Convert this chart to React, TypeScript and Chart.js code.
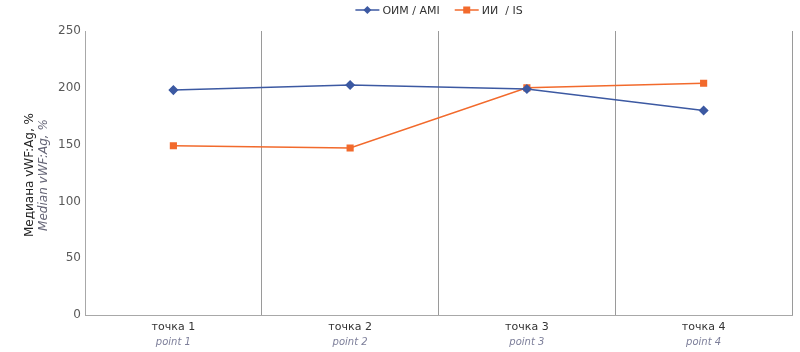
import React, { useEffect, useRef } from "react";
import { Chart, registerables } from "chart.js";

Chart.register(...registerables);

const categoriesRu = ["точка 1", "точка 2", "точка 3", "точка 4"];
const categoriesEn = ["point 1", "point 2", "point 3", "point 4"];
const amiValues = [198, 202.5, 199, 180];
const isValues = [149, 147, 200, 204];
const seriesNames = ["ОИМ / AMI", "ИИ  / IS"];
const yTitleRu = "Медиана vWF:Ag, %";
const yTitleEn = "Median vWF:Ag, %";

const BLUE = "#3C59A2";
const ORANGE = "#F26A2C";
const FONT = "'DejaVu Sans', sans-serif";

const customText = {
  id: "customText",
  afterDraw(chart: any) {
    const ctx = chart.ctx;
    const x = chart.scales.x;
    const area = chart.chartArea;
    ctx.save();
    ctx.textAlign = "center";
    ctx.textBaseline = "middle";
    categoriesRu.forEach((lab, i) => {
      const px = x.getPixelForValue(i);
      ctx.font = `11px ${FONT}`;
      ctx.fillStyle = "#333333";
      ctx.fillText(lab, px, area.bottom + 12);
      ctx.font = `italic 10px ${FONT}`;
      ctx.fillStyle = "#7d7f9a";
      ctx.fillText(categoriesEn[i], px, area.bottom + 27);
    });
    const cy = (area.top + area.bottom) / 2 + 2;
    ctx.translate(30, cy);
    ctx.rotate(-Math.PI / 2);
    ctx.font = `12px ${FONT}`;
    ctx.fillStyle = "#222222";
    ctx.fillText(yTitleRu, 0, 0);
    ctx.font = `italic 12px ${FONT}`;
    ctx.fillStyle = "#666677";
    ctx.fillText(yTitleEn, 0, 14);
    ctx.restore();

    ctx.save();
    ctx.font = `11px ${FONT}`;
    ctx.textBaseline = "middle";
    ctx.textAlign = "left";
    const colors = [BLUE, ORANGE];
    const widths = seriesNames.map((n) => ctx.measureText(n).width);
    const itemW = widths.map((w) => 24 + 4 + w);
    const gap = 14;
    const total = itemW[0] + itemW[1] + gap;
    let lx = (area.left + area.right) / 2 - total / 2 + 1;
    const ly = 10;
    seriesNames.forEach((n, i) => {
      ctx.strokeStyle = colors[i];
      ctx.lineWidth = 1.5;
      ctx.beginPath();
      ctx.moveTo(lx, ly);
      ctx.lineTo(lx + 24, ly);
      ctx.stroke();
      ctx.fillStyle = colors[i];
      const mx = lx + 12;
      if (i === 0) {
        ctx.beginPath();
        ctx.moveTo(mx, ly - 4);
        ctx.lineTo(mx + 4, ly);
        ctx.lineTo(mx, ly + 4);
        ctx.lineTo(mx - 4, ly);
        ctx.closePath();
        ctx.fill();
      } else {
        ctx.fillRect(mx - 3.5, ly - 3.5, 7, 7);
      }
      ctx.fillStyle = "#333333";
      ctx.fillText(n, lx + 27, ly + 1);
      lx += itemW[i] + gap;
    });
    ctx.restore();
  },
};

export default function App() {
  const ref = useRef<HTMLCanvasElement>(null);
  useEffect(() => {
    if (!ref.current) return;
    const chart = new Chart(ref.current, {
      type: "line",
      data: {
        labels: categoriesRu,
        datasets: [
          {
            label: seriesNames[0],
            data: amiValues,
            borderColor: BLUE,
            backgroundColor: BLUE,
            borderWidth: 1.5,
            pointStyle: "rectRot",
            pointRadius: 4,
            pointHoverRadius: 4,
            tension: 0,
          },
          {
            label: seriesNames[1],
            data: isValues,
            borderColor: ORANGE,
            backgroundColor: ORANGE,
            borderWidth: 1.5,
            pointStyle: "rect",
            pointRadius: 4,
            pointHoverRadius: 4,
            tension: 0,
          },
        ],
      },
      options: {
        animation: false,
        responsive: true,
        maintainAspectRatio: false,
        layout: { padding: { top: 31, right: 8, bottom: 0, left: 0 } },
        plugins: {
          legend: { display: false },
          tooltip: { enabled: false },
        },
        scales: {
          x: {
            offset: true,
            grid: {
              display: true,
              offset: true,
              color: "#9a9a9a",
              lineWidth: 1,
              drawTicks: false,
            },
            border: { display: true, color: "#a8a8a8" },
            ticks: { display: false },
            afterFit(scale: any) {
              scale.height = 37;
            },
          },
          y: {
            min: 0,
            max: 250,
            ticks: {
              stepSize: 50,
              color: "#595959",
              font: { family: FONT, size: 12 },
              padding: 4,
            },
            grid: { display: false, drawTicks: false },
            border: { display: true, color: "#a8a8a8" },
            afterFit(scale: any) {
              scale.width = 85;
            },
          },
        },
      },
      plugins: [customText],
    });
    return () => chart.destroy();
  }, []);
  return (
    <div style={{ position: "absolute", left: 0, top: 0, width: 800, height: 352 }}>
      <canvas ref={ref} />
    </div>
  );
}
